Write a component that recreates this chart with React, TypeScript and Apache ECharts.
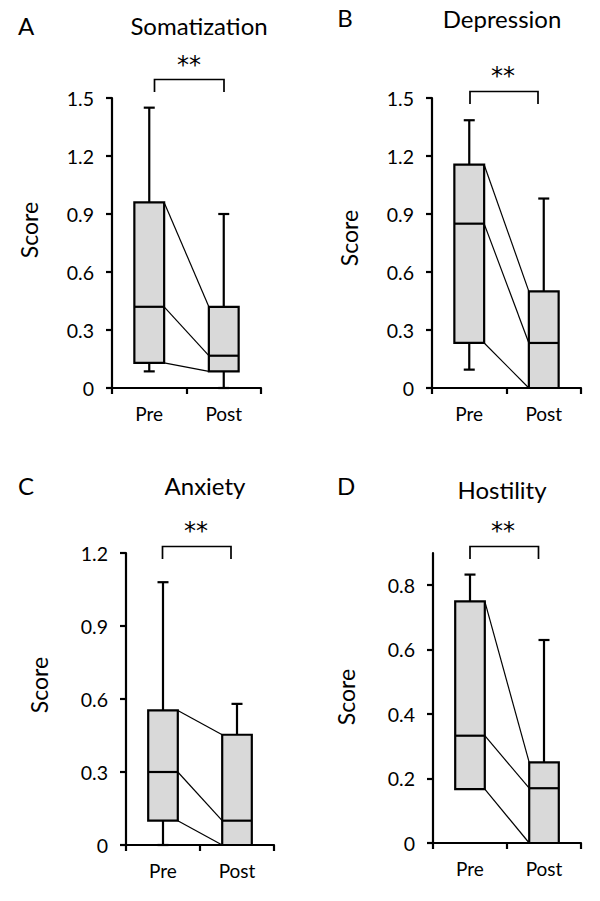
import React, { useEffect, useRef } from 'react';
import * as echarts from 'echarts';

const categories = ['Pre', 'Post'];
const panelLetters = ['A', 'B', 'C', 'D'];
const panelTitles = ['Somatization', 'Depression', 'Anxiety', 'Hostility'];
const yAxisName = 'Score';
const significance = ['**', '**', '**', '**'];

// [min, Q1, median, Q3, max]
const somatizationPre = [0.086, 0.13, 0.42, 0.96, 1.45];
const somatizationPost = [0, 0.086, 0.167, 0.42, 0.9];
const depressionPre = [0.095, 0.233, 0.85, 1.155, 1.385];
const depressionPost = [0, 0, 0.233, 0.5, 0.98];
const anxietyPre = [0, 0.1, 0.3, 0.553, 1.08];
const anxietyPost = [0, 0, 0.1, 0.453, 0.58];
const hostilityPre = [0.167, 0.167, 0.333, 0.75, 0.833];
const hostilityPost = [0, 0, 0.17, 0.25, 0.63];

const yMax = [1.5, 1.5, 1.2, 0.9];
const yInterval = [0.3, 0.3, 0.3, 0.2];
const yTickValues = [
  [0, 0.3, 0.6, 0.9, 1.2, 1.5],
  [0, 0.3, 0.6, 0.9, 1.2, 1.5],
  [0, 0.3, 0.6, 0.9, 1.2],
  [0, 0.2, 0.4, 0.6, 0.8],
];

const panels = [
  [somatizationPre, somatizationPost],
  [depressionPre, depressionPost],
  [anxietyPre, anxietyPost],
  [hostilityPre, hostilityPost],
];

// layout
const grids = [
  { left: 112, top: 98, width: 149, height: 290 },
  { left: 432, top: 98, width: 149, height: 290 },
  { left: 126, top: 553, width: 148, height: 292 },
  { left: 433, top: 553, width: 148, height: 290 },
];
const letterPos = [[26, 25], [345, 17], [26, 485], [346, 485]];
const titlePos = [[199, 25], [502, 18], [205, 485], [502, 489]];
const starPos = [[189, 65], [503, 76], [196, 531], [503, 531]];
const bracketPos = [
  [154.5, 224, 79.5, 92],
  [470, 538, 91.5, 104],
  [162.5, 231, 546.5, 559],
  [470, 538.5, 546.5, 559],
];
const scorePos = [[29, 230], [349, 238], [39, 685], [346, 697]];

const FONT = 'Lato';
const STAR_FONT = 'DejaVu Sans';
const BOX_FILL = '#d9d9d9';

export default function App() {
  const ref = useRef<HTMLDivElement>(null);
  useEffect(() => {
    document.body.style.margin = '0';
    if (!ref.current) return;
    const chart = echarts.init(ref.current, null, { renderer: 'svg' });

    const boxRender = (params: any, api: any) => {
      const cat = api.value(0);
      const mn = api.value(1);
      const q1 = api.value(2);
      const md = api.value(3);
      const q3 = api.value(4);
      const mx = api.value(5);
      const bw = api.size([1, 0])[0] * 0.4;
      const pMin = api.coord([cat, mn]);
      const pQ1 = api.coord([cat, q1]);
      const pMd = api.coord([cat, md]);
      const pQ3 = api.coord([cat, q3]);
      const pMax = api.coord([cat, mx]);
      const cx = pMd[0];
      const stroke = { stroke: '#000', lineWidth: 2.2 };
      const children: any[] = [];
      if (mx > q3) {
        children.push({ type: 'line', shape: { x1: cx, y1: pQ3[1], x2: cx, y2: pMax[1] }, style: stroke });
        children.push({ type: 'line', shape: { x1: cx - 5.5, y1: pMax[1], x2: cx + 5.5, y2: pMax[1] }, style: stroke });
      }
      if (mn < q1) {
        children.push({ type: 'line', shape: { x1: cx, y1: pQ1[1], x2: cx, y2: pMin[1] }, style: stroke });
        children.push({ type: 'line', shape: { x1: cx - 5.5, y1: pMin[1], x2: cx + 5.5, y2: pMin[1] }, style: stroke });
      }
      children.push({
        type: 'rect',
        shape: { x: cx - bw / 2, y: pQ3[1], width: bw, height: pQ1[1] - pQ3[1] },
        style: { fill: BOX_FILL, stroke: '#000', lineWidth: 2.2 },
      });
      children.push({ type: 'line', shape: { x1: cx - bw / 2, y1: pMd[1], x2: cx + bw / 2, y2: pMd[1] }, style: stroke });
      return { type: 'group', children };
    };

    const linkRender = (params: any, api: any) => {
      const bw = api.size([1, 0])[0] * 0.4;
      const p1 = api.coord([0, api.value(1)]);
      const p2 = api.coord([1, api.value(2)]);
      return {
        type: 'line',
        shape: { x1: p1[0] + bw / 2, y1: p1[1], x2: p2[0] - bw / 2, y2: p2[1] },
        style: { stroke: '#000', lineWidth: 1.2 },
      };
    };

    const axisLine = { show: true, lineStyle: { color: '#000', width: 2.2 } };
    const xAxis = grids.map((_, i) => ({
      type: 'category',
      gridIndex: i,
      data: categories,
      boundaryGap: true,
      axisLine,
      axisTick: { show: true, inside: false, length: 6, lineStyle: { color: '#000', width: 2.2 } },
      axisLabel: { color: '#000', fontFamily: FONT, fontSize: 19, margin: 16 },
      splitLine: { show: false },
    }));
    const yAxis = grids.map((_, i) => ({
      type: 'value',
      gridIndex: i,
      min: 0,
      max: yMax[i],
      interval: yInterval[i],
      axisLine,
      axisTick: { show: true, inside: false, length: 6, lineStyle: { color: '#000', width: 2.2 }, customValues: yTickValues[i] },
      axisLabel: { color: '#000', fontFamily: FONT, fontSize: 19.5, margin: 18, customValues: yTickValues[i] },
      splitLine: { show: false },
    }));

    const series: any[] = [];
    panels.forEach((p, i) => {
      const [pre, post] = p;
      series.push({
        type: 'custom',
        xAxisIndex: i,
        yAxisIndex: i,
        renderItem: linkRender,
        encode: { x: 0, y: [1, 2] },
        data: [
          [0, pre[1], post[1]],
          [0, pre[2], post[2]],
          [0, pre[3], post[3]],
        ],
        z: 2,
      });
      series.push({
        type: 'custom',
        xAxisIndex: i,
        yAxisIndex: i,
        renderItem: boxRender,
        encode: { x: 0, y: [1, 2, 3, 4, 5] },
        data: [
          [0, ...pre],
          [1, ...post],
        ],
        z: 3,
      });
    });

    const graphic: any[] = [];
    panels.forEach((_, i) => {
      graphic.push({
        type: 'text',
        x: letterPos[i][0],
        y: letterPos[i][1],
        style: { text: panelLetters[i], fontFamily: FONT, fontSize: 24, fill: '#000', align: 'center', verticalAlign: 'middle' },
      });
      graphic.push({
        type: 'text',
        x: titlePos[i][0],
        y: titlePos[i][1],
        style: { text: panelTitles[i], fontFamily: FONT, fontSize: 24, fill: '#000', align: 'center', verticalAlign: 'middle' },
      });
      graphic.push({
        type: 'text',
        x: starPos[i][0],
        y: starPos[i][1],
        style: { text: significance[i], fontFamily: STAR_FONT, fontSize: 24, fill: '#000', align: 'center', verticalAlign: 'middle' },
      });
      const [bx1, bx2, by, byl] = bracketPos[i];
      graphic.push({
        type: 'polyline',
        shape: { points: [[bx1, byl], [bx1, by], [bx2, by], [bx2, byl]] },
        style: { stroke: '#000', lineWidth: 1.7, fill: null },
      });
      graphic.push({
        type: 'text',
        x: scorePos[i][0],
        y: scorePos[i][1],
        rotation: Math.PI / 2,
        style: { text: yAxisName, fontFamily: FONT, fontSize: 23, fill: '#000', align: 'center', verticalAlign: 'middle' },
      });
    });

    chart.setOption({
      animation: false,
      backgroundColor: '#fff',
      grid: grids.map((g) => ({ ...g, containLabel: false })),
      xAxis,
      yAxis,
      series,
      graphic,
    });
    return () => chart.dispose();
  }, []);
  return <div ref={ref} style={{ width: 600, height: 901 }} />;
}
